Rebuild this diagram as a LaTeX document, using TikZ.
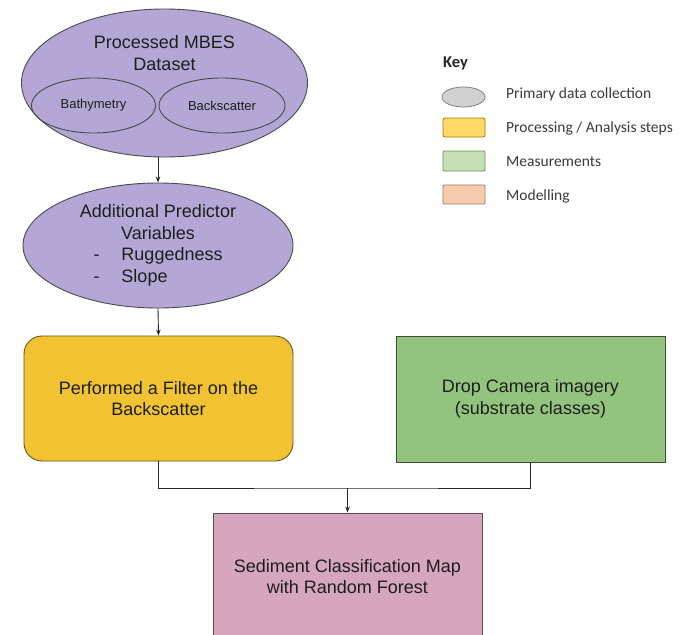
\documentclass[tikz,border=0pt]{standalone}
\usepackage{fontspec}
\setmainfont{Liberation Sans}
\newfontfamily\keyfont{Carlito}
\usetikzlibrary{shapes.geometric,arrows.meta}
\definecolor{purp}{HTML}{B4A7D6}
\definecolor{yell}{HTML}{F1C232}
\definecolor{gree}{HTML}{93C47D}
\definecolor{pink}{HTML}{D5A6BD}
\definecolor{edge}{HTML}{4A4A4A}
\definecolor{txt}{HTML}{1E1E1E}
\definecolor{keytxt}{HTML}{3A3A3A}
\definecolor{kyfill}{HTML}{FFD966}
\definecolor{kydraw}{HTML}{A07A10}
\definecolor{kgfill}{HTML}{C5E0B4}
\definecolor{kgdraw}{HTML}{6F8F62}
\definecolor{kofill}{HTML}{F8CBAD}
\definecolor{kodraw}{HTML}{A07A6A}
\tikzset{
  x=1pt,y=1pt,
  big/.style={font=\fontsize{18}{21.5}\selectfont, text=txt, align=center},
  small/.style={font=\fontsize{13}{15}\selectfont, text=txt},
  oval/.style={ellipse, draw=edge, line width=0.9pt, fill=purp, inner sep=0pt},
  inoval/.style={ellipse, draw=edge, line width=0.9pt, inner sep=0pt, minimum width=124pt, minimum height=55pt},
  boxnode/.style={rectangle, line width=0.9pt, minimum width=269pt, minimum height=126pt, inner sep=0pt},
  conn/.style={draw=black!85, line width=0.9pt},
  arr/.style={conn, -{Stealth[length=6pt,width=4.5pt]}},
  keyitem/.style={line width=0.8pt, minimum width=42pt, minimum height=19pt, inner sep=0pt},
  keylabel/.style={font=\keyfont\fontsize{15.5}{18}\selectfont, text=keytxt, anchor=west, inner sep=0pt},
}
\begin{document}
\begin{tikzpicture}
\path[fill=white] (0,0) rectangle (679,-634);
\useasboundingbox (0,0) rectangle (679,-634);

% top ellipse
\node[oval, minimum width=286pt, minimum height=148pt] (e1) at (164.5,-83) {};
\node[big] (t1) at (164.5,-53) {Processed MBES\\Dataset};
\node[inoval, small] (bathy) at (93.5,-105.5) {Bathymetry};
\node[inoval, small, minimum width=126pt] (back) at (222,-105.5) {Backscatter};

% second ellipse
\node[oval, big, minimum width=270pt, minimum height=125pt] (e2) at (158,-245.5)
  {Additional Predictor\\Variables\\
   \makebox[129pt][l]{-\hspace{22pt}Ruggedness}\\
   \makebox[129pt][l]{-\hspace{22pt}Slope}};

% boxes
\node[boxnode, big, fill=yell, draw=yell!45!black, rounded corners=18pt, minimum height=125pt] (filt) at (158.5,-398.5)
  {Performed a Filter on the\\Backscatter};
\node[boxnode, big, fill=gree, draw=gree!40!black] (cam) at (530.5,-399)
  {Drop Camera imagery\\(substrate classes)};
\node[boxnode, big, fill=pink, draw=pink!45!black, minimum height=127pt] (map) at (347.5,-576.5)
  {Sediment Classification Map\\with Random Forest};

% connectors
\draw[arr] (e1.south -| e2.north) -- (e2.north);
\draw[arr] (e2.south) -- (filt.north);
\coordinate (j) at (347.5,-488);
\draw[conn] (filt.south) |- (j) -| (cam.south);
\draw[arr] (j) -- (map.north);

% key
\node[font=\keyfont\bfseries\fontsize{16.5}{19}\selectfont, text=black!85, anchor=west, inner sep=0pt] (keyt) at (443,-63) {Key};
\node[ellipse, keyitem, fill=black!18, draw=black!50, minimum height=20pt, minimum width=43pt] (k1) at (463.5,-97) {};
\node[rectangle, rounded corners=2pt, keyitem, fill=kyfill, draw=kydraw] (k2) at (464,-127.5) {};
\node[rectangle, rounded corners=1pt, keyitem, fill=kgfill, draw=kgdraw, minimum height=20pt] (k3) at (464,-161) {};
\node[rectangle, rounded corners=1pt, keyitem, fill=kofill, draw=kodraw] (k4) at (464,-194.5) {};
\node[keylabel] (l1) at (506,-94) {Primary data collection};
\node[keylabel] (l2) at (506,-128) {Processing / Analysis steps};
\node[keylabel] (l3) at (506,-162) {Measurements};
\node[keylabel] (l4) at (506,-196) {Modelling};
\end{tikzpicture}
\end{document}
